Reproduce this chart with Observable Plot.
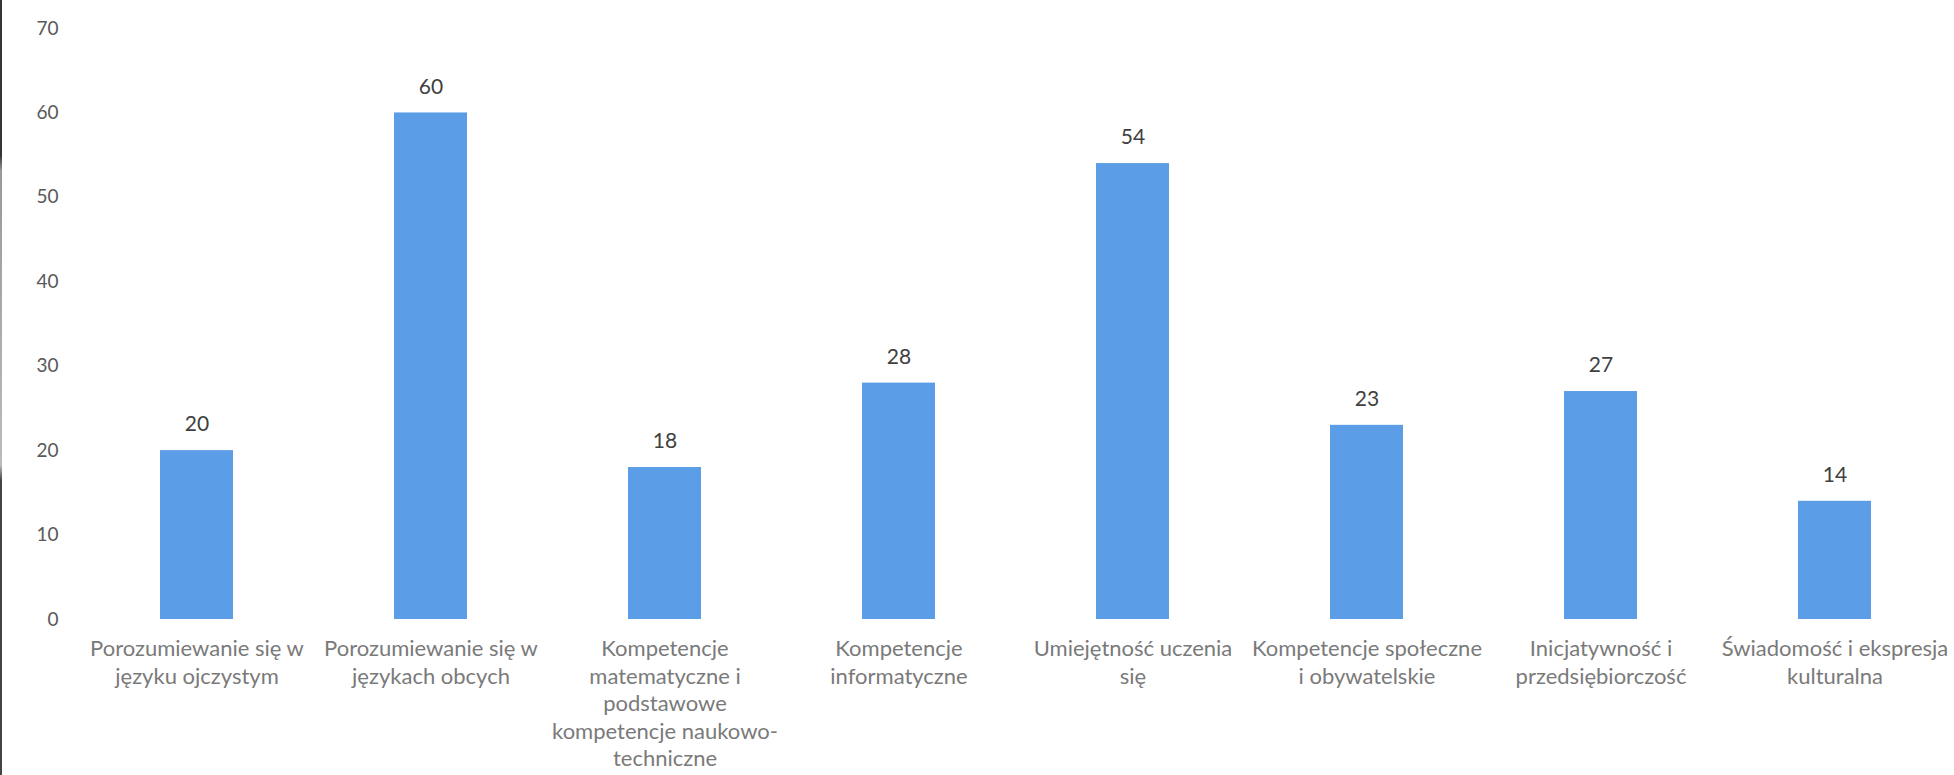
<!DOCTYPE html>
<html>
<head>
<meta charset="utf-8">
<script src="https://cdn.jsdelivr.net/npm/d3@7"></script>
<script src="https://cdn.jsdelivr.net/npm/@observablehq/plot@0.6"></script>
<style>
  html, body { margin: 0; padding: 0; background: #fff; }
  #chart { width: 1954px; height: 775px; position: relative; box-sizing: border-box; }
  #edge { position: absolute; left: 0; top: 0; width: 2px; height: 775px; background: linear-gradient(#333 0%, #333 20%, #999 22%, #bbb 60%, #444 62%, #444 100%); }
</style>
</head>
<body>
<div id="chart"><div id="edge"></div></div>
<script>
const categories = [
  "Porozumiewanie się w\njęzyku ojczystym",
  "Porozumiewanie się w\njęzykach obcych",
  "Kompetencje\nmatematyczne i\npodstawowe\nkompetencje naukowo-\ntechniczne",
  "Kompetencje\ninformatyczne",
  "Umiejętność uczenia\nsię",
  "Kompetencje społeczne\ni obywatelskie",
  "Inicjatywność i\nprzedsiębiorczość",
  "Świadomość i ekspresja\nkulturalna"
];
const values = [20, 60, 18, 28, 54, 23, 27, 14];
const yTicks = [0, 10, 20, 30, 40, 50, 60, 70];

const data = categories.map((c, i) => ({category: c, value: values[i]}));

const chart = Plot.plot({
  width: 1954,
  height: 775,
  marginLeft: 76,
  marginRight: 0,
  marginTop: 28,
  marginBottom: 156,
  style: { fontFamily: "Lato, 'Open Sans', sans-serif", background: "transparent" },
  x: { domain: categories, paddingInner: 0.69, paddingOuter: 0.345, align: 0.5 },
  y: { domain: [0, 70] },
  marks: [
    Plot.barY(data, { x: "category", y: "value", fill: "#5b9de6" }),
    Plot.text(data, { x: "category", y: "value", text: d => String(d.value), dy: -26, fill: "#404040", fontSize: 21 }),
    Plot.axisY({ ticks: yTicks, tickSize: 0, tickPadding: 18, label: null, fontSize: 19, color: "#595959" }),
    Plot.axisX({ tickSize: 0, tickPadding: 17, label: null, fontSize: 22, lineHeight: 1.25, color: "#7a7a7a", textOverflow: null })
  ]
});
document.getElementById("chart").appendChild(chart);
</script>
</body>
</html>
